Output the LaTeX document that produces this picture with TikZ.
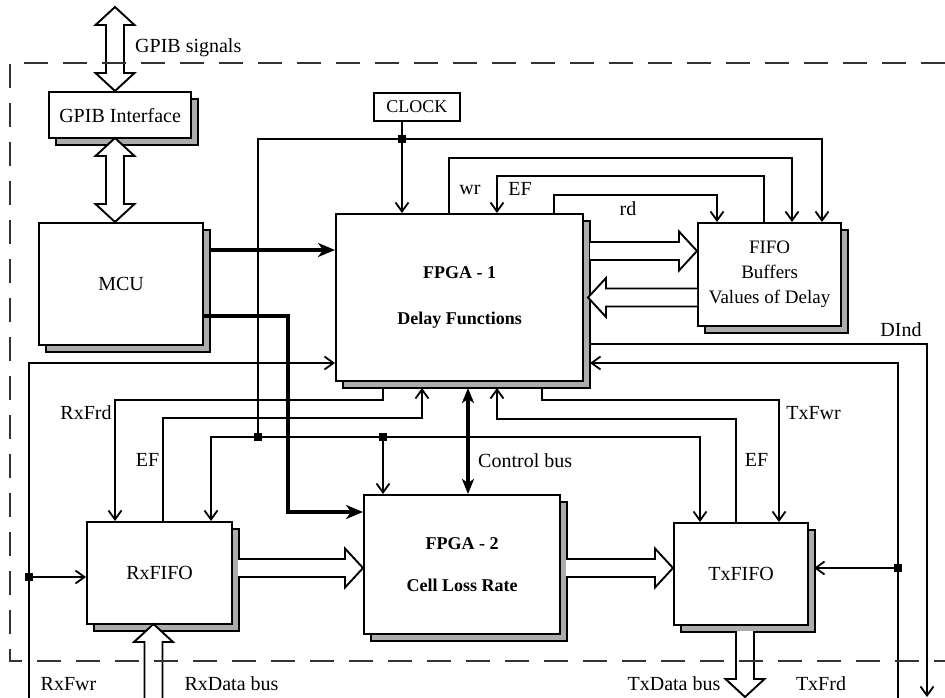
\documentclass[tikz,border=0pt]{standalone}
\usepackage{fontspec}
\setmainfont{Liberation Serif}
\usetikzlibrary{arrows.meta,shadows,calc}

\newcommand{\hollowR}[2]{%
  \draw[hollow] let \p1=(#1),\p2=(#2) in (\x1,\y2+9pt) -- (\x2-18pt,\y2+9pt) -- (\x2-18pt,\y2+19.5pt) -- (\x2,\y2) -- (\x2-18pt,\y2-19.5pt) -- (\x2-18pt,\y2-9pt) -- (\x1,\y2-9pt);}
\newcommand{\hollowL}[2]{%
  \draw[hollow] let \p1=(#1),\p2=(#2) in (\x1,\y2+9pt) -- (\x2+18pt,\y2+9pt) -- (\x2+18pt,\y2+19.5pt) -- (\x2,\y2) -- (\x2+18pt,\y2-19.5pt) -- (\x2+18pt,\y2-9pt) -- (\x1,\y2-9pt);}
\newcommand{\hollowU}[2]{%
  \draw[hollow] let \p1=(#1),\p2=(#2) in (\x2-9pt,\y1) -- (\x2-9pt,\y2-18pt) -- (\x2-19.5pt,\y2-18pt) -- (\x2,\y2) -- (\x2+19.5pt,\y2-18pt) -- (\x2+9pt,\y2-18pt) -- (\x2+9pt,\y1);}
\newcommand{\hollowD}[2]{%
  \draw[hollow] let \p1=(#1),\p2=(#2) in (\x2-9pt,\y1) -- (\x2-9pt,\y2+18pt) -- (\x2-19.5pt,\y2+18pt) -- (\x2,\y2) -- (\x2+19.5pt,\y2+18pt) -- (\x2+9pt,\y2+18pt) -- (\x2+9pt,\y1);}
\newcommand{\hollowUD}[2]{%
  \draw[hollow] let \p1=(#1),\p2=(#2) in (\x1-9pt,\y1-18pt) -- (\x1-19.5pt,\y1-18pt) -- (\x1,\y1) -- (\x1+19.5pt,\y1-18pt) -- (\x1+9pt,\y1-18pt) -- (\x1+9pt,\y2+18pt) -- (\x1+19.5pt,\y2+18pt) -- (\x1,\y2) -- (\x1-19.5pt,\y2+18pt) -- (\x1-9pt,\y2+18pt) -- cycle;}

\tikzset{
  blk/.style={draw, line width=2.2pt, fill=white, anchor=north west, inner sep=0pt, align=center,
    font=\fontsize{20}{24}\selectfont,
    general shadow={fill=gray!65, draw=black, line width=1.4pt, shadow xshift=7pt, shadow yshift=-7pt}},
  clk/.style={draw, line width=1.9pt, fill=white, anchor=north west, inner sep=0pt,
    font=\fontsize{18}{22}\selectfont, minimum width=86pt, minimum height=28pt},
  lbl/.style={inner sep=0pt, font=\fontsize{20}{24}\selectfont},
  wire/.style={line width=1.8pt},
  arr/.style={wire, -{Straight Barb[length=9pt,width=13pt]}},
  arrboth/.style={wire, {Straight Barb[length=9pt,width=13pt]}-{Straight Barb[length=9pt,width=13pt]}},
  bus/.style={line width=4pt, -{Stealth[length=17pt,width=14pt,inset=5pt]}},
  cbus/.style={line width=3.5pt, {Stealth[length=15pt,width=12pt,inset=4pt]}-{Stealth[length=15pt,width=12pt,inset=4pt]}},
  hollow/.style={line width=1.9pt, fill=white, line join=miter},
  dot/.style={rectangle, fill=black, inner sep=0pt, minimum size=8pt},
  frame/.style={line width=1.3pt, draw=black!80, dash pattern=on 24pt off 15pt}
}

\begin{document}
\begin{tikzpicture}[x=1pt,y=-1pt]
\useasboundingbox (0,0) rectangle (945,698);

% blocks
\node[blk, minimum width=142pt, minimum height=46pt] (gpib) at (48,91) {GPIB Interface};
\node[blk, minimum width=164pt, minimum height=122pt] (mcu) at (38,222) {MCU};
\node[clk] (clock) at (373,92) {CLOCK};
\node[blk, minimum width=247pt, minimum height=167pt, font=\bfseries\fontsize{18}{46}\selectfont] (fpga1) at (335,213) {FPGA - 1\\Delay Functions};
\node[blk, minimum width=143pt, minimum height=103pt, font=\fontsize{19}{25}\selectfont] (fifo) at (697,222) {FIFO\\Buffers\\Values of Delay};
\node[blk, minimum width=145pt, minimum height=102pt] (rxfifo) at (86,521) {RxFIFO};
\node[blk, minimum width=196pt, minimum height=139pt, font=\bfseries\fontsize{18}{42}\selectfont] (fpga2) at (363,494) {FPGA - 2\\Cell Loss Rate};
\node[blk, minimum width=134pt, minimum height=102pt] (txfifo) at (673,522) {TxFIFO};

% coordinates
\coordinate (j1) at (402,139);
\coordinate (j2) at (258,437);
\coordinate (j3) at (383,437);
\coordinate (j4) at (29,577);
\coordinate (j5) at (898,568);
\coordinate (m1) at (209,250);
\coordinate (m2) at (202,316);
\coordinate (m3) at (288,512);
\coordinate (rxin) at (29,698);
\coordinate (r1) at (29,363);
\coordinate (r2) at (383,388);
\coordinate (r3) at (115,400);
\coordinate (e1) at (163,418);
\coordinate (e1b) at (422,388);
\coordinate (e2) at (736,419);
\coordinate (e2b) at (497,388);
\coordinate (t1) at (542,388);
\coordinate (t2) at (779,400);
\coordinate (cb) at (468,388);
\coordinate (d1) at (590,344);
\coordinate (dout) at (927,697);
\coordinate (tin) at (898,698);
\coordinate (f1) at (590,363);
\coordinate (tx1) at (814,568);
\coordinate (ck1) at (211,521);
\coordinate (ck2) at (700,522);

% hollow bus arrows
\hollowUD{115,7}{115,91}
\hollowUD{115,138}{115,222}
\hollowR{590,251}{697,251}
\hollowL{697,297.5}{588,297.5}
\hollowR{238,568}{363,568}
\hollowR{566,568}{673,568}
\hollowU{153.5,698}{153.5,624}
\hollowD{745,631}{745,697}

% clock net
\draw[wire] (j1 |- clock.south) -- (j1);
\draw[arr] (j1) -- (j1 |- fpga1.north);
\draw[arr] (j2) |- (j1) -| ([xshift=125pt]fifo.north west);
\draw[arrboth] (ck1) -- (ck1 |- j2) -- (ck2 |- j2) -- (ck2);
\draw[arr] (j3) -- (j3 |- fpga2.north);

% FIFO control
\draw[arr] ([xshift=114pt]fpga1.north west) -- ++(0,-55) -| ([xshift=95pt]fifo.north west);
\draw[arr] ([xshift=67pt]fifo.north west) -- ++(0,-46) -| ([xshift=162pt]fpga1.north west);
\draw[arr] ([xshift=219pt]fpga1.north west) -- ++(0,-18) -| ([xshift=20pt]fifo.north west);

% MCU buses
\draw[bus] (m1) -- (m1 -| fpga1.west);
\draw[bus] (m2) -| (m3) -- (m3 -| fpga2.west);

% Rx side
\draw[arr] (rxin) -- (r1) -- (r1 -| fpga1.west);
\draw[arr] (j4) -- (j4 -| rxfifo.west);
\draw[arr] (r2) |- (r3) -- (r3 |- rxfifo.north);
\draw[arr] (e1 |- rxfifo.north) -- (e1) -| (e1b);

% control bus
\draw[cbus] (cb) -- (cb |- fpga2.north);

% Tx side
\draw[arr] (e2 |- txfifo.north) -- (e2) -| (e2b);
\draw[arr] (t1) |- (t2) -- (t2 |- txfifo.north);
\draw[arr] (d1) -| (dout);
\draw[arr] (tin) |- (f1);
\draw[arr] (j5) -- (tx1);

% junction dots
\node[dot] at (j1) {};
\node[dot] at (j2) {};
\node[dot] at (j3) {};
\node[dot] at (j4) {};
\node[dot] at (j5) {};

% labels
\node[lbl, anchor=west] (lgs) at (135,47.5) {GPIB signals};
\node[lbl] (lwr) at (470,190) {wr};
\node[lbl] (lef1) at (520,189) {EF};
\node[lbl] (lrd) at (628,208.5) {rd};
\node[lbl] (ldind) at (901,330) {DInd};
\node[lbl] (lrxfrd) at (86,413) {RxFrd};
\node[lbl] (lef2) at (147.5,460) {EF};
\node[lbl, anchor=west] (lcb) at (478,461) {Control bus};
\node[lbl] (lef3) at (756.5,460) {EF};
\node[lbl] (ltxfwr) at (813.5,413.5) {TxFwr};
\node[lbl] (lrxfwr) at (68.5,684) {RxFwr};
\node[lbl] (lrxd) at (231.5,684) {RxData bus};
\node[lbl] (ltxd) at (674,684) {TxData bus};
\node[lbl] (ltxfrd) at (821,684) {TxFrd};

% dashed boundary
\draw[frame] (945,63) -- (10,63) -- (10,661) -- (945,661);
\end{tikzpicture}
\end{document}
